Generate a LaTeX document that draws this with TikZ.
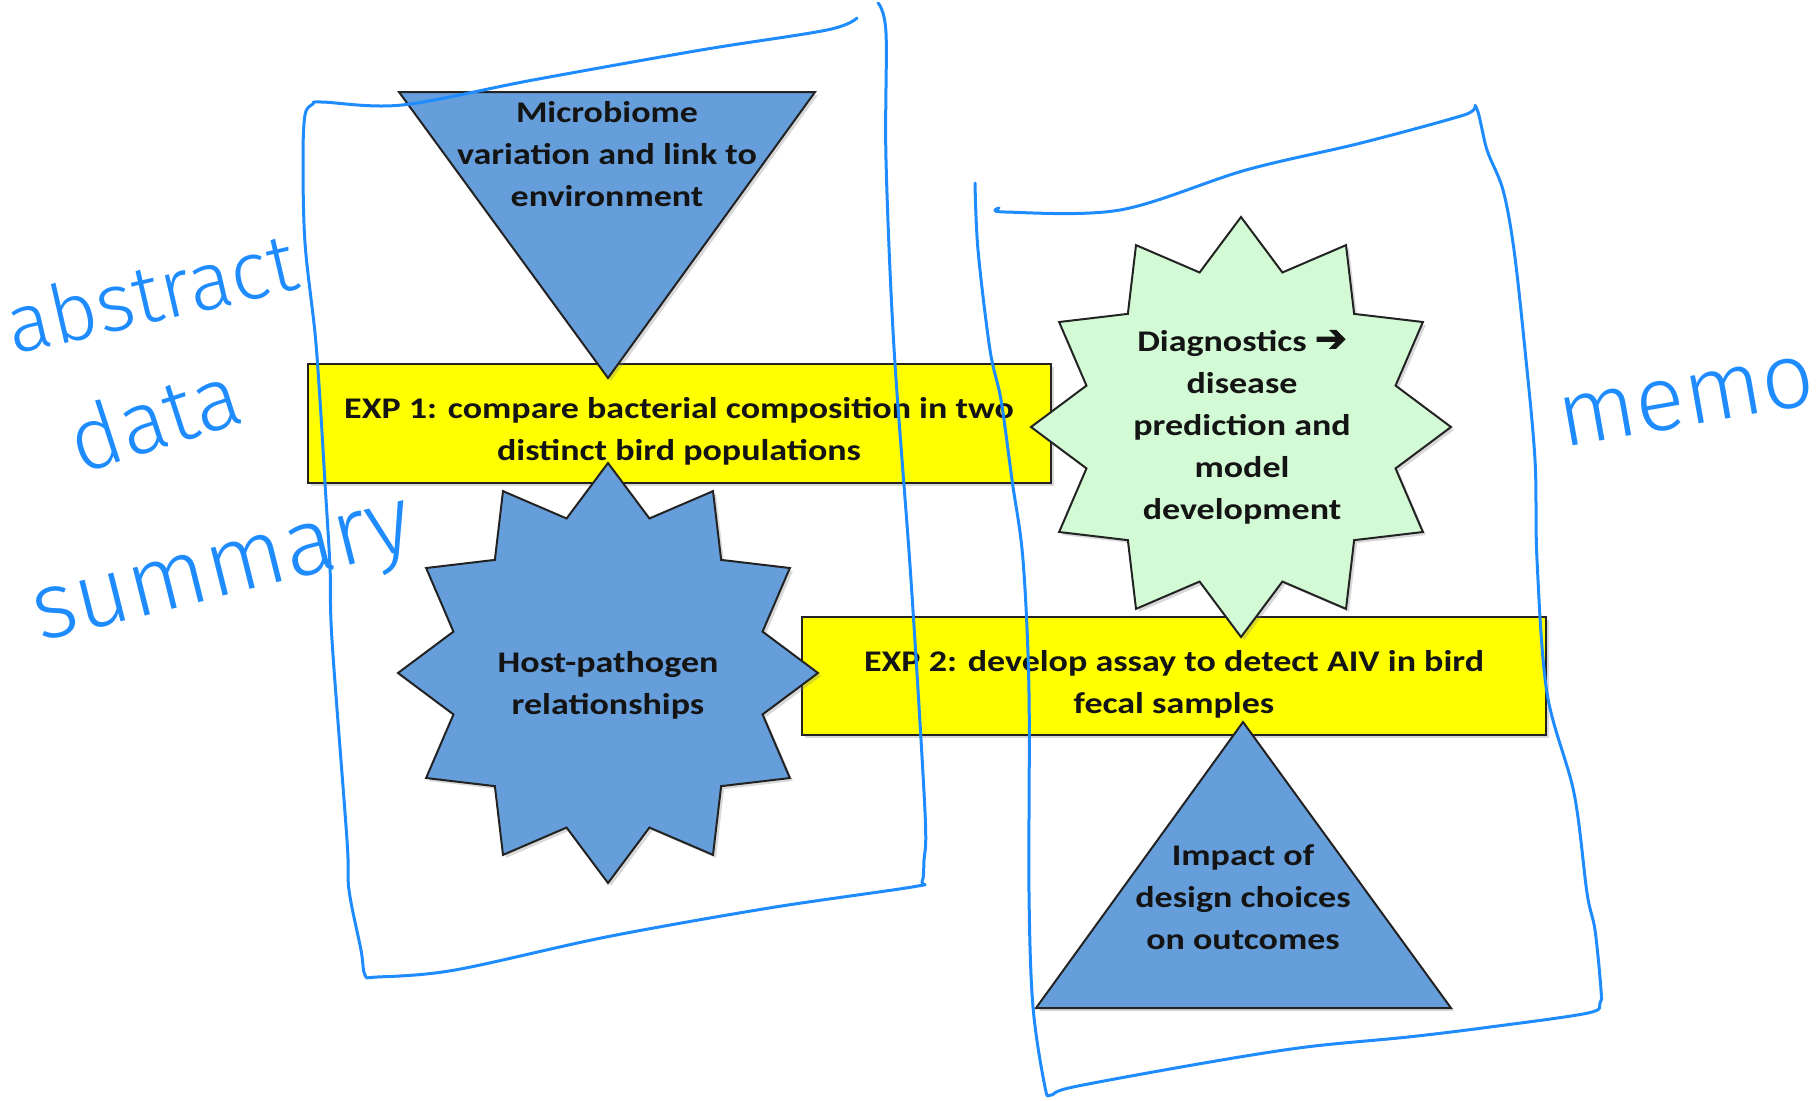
\documentclass[tikz,border=0pt]{standalone}
\usepackage{fontspec}
\setmainfont{Carlito}[FakeStretch=1.2]
\newfontfamily\arrowfont{DejaVu Sans}[FakeBold=2.5]
\newfontfamily\hand{Fira Sans Light}
\usetikzlibrary{shadows}
\definecolor{shapeblue}{RGB}{101,158,218}
\definecolor{expyellow}{RGB}{255,255,0}
\definecolor{stargreen}{RGB}{210,250,212}
\definecolor{handblue}{RGB}{30,140,255}
\definecolor{edgegrey}{RGB}{35,35,35}
\begin{document}
\begin{tikzpicture}[x=0.5pt,y=-0.5pt,
  shp/.style={draw=edgegrey, line width=1pt, line join=miter,
    drop shadow={shadow xshift=1.5pt, shadow yshift=-1.5pt, opacity=0.3}},
  ybox/.style={shp, fill=expyellow, inner sep=0pt},
  bshape/.style={shp, fill=shapeblue},
  gshape/.style={shp, fill=stargreen},
  txt/.style={font=\bfseries\fontsize{15}{21}\selectfont, align=center, inner sep=0pt, text=black!92},
  handline/.style={draw=handblue, line width=1.5pt, line cap=round, line join=round},
  handtext/.style={text=handblue, inner sep=0pt, anchor=base west}
]
\useasboundingbox (0,0) rectangle (1820,1100);

% yellow experiment boxes
\node[ybox, minimum width=371.5pt, minimum height=59.5pt] (exp1box) at (679.5,423.5) {};
\node[ybox, minimum width=372pt, minimum height=59pt] (exp2box) at (1174,676) {};

% down triangle
\draw[bshape] (399,92) -- (815,92) -- (608,378) -- cycle;
% up triangle
\draw[bshape] (1243,722) -- (1451,1008) -- (1036,1008) -- cycle;

% host-pathogen star
\coordinate (hostc) at (608,673);
\draw[bshape, shift={(hostc)}] (90:210)
  \foreach \a in {0,30,...,330}{ -- ({\a+105}:160) -- ({\a+120}:210) } -- cycle;
% diagnostics star
\coordinate (diagc) at (1241,427);
\draw[gshape, shift={(diagc)}] (90:210)
  \foreach \a in {0,30,...,330}{ -- ({\a+105}:160) -- ({\a+120}:210) } -- cycle;

% texts
\node[txt] (micro) at (607,154) {Microbiome\\variation and link to\\environment};
\node[txt] (exp1) at (679,431) {EXP 1: compare bacterial composition in two\\distinct bird populations};
\node[txt] (exp2) at (1174,684) {EXP 2: develop assay to detect AIV in bird\\fecal samples};
\node[txt] (host) at (608,685) {Host-pathogen\\relationships};
\node[txt] (diag) at (1242,427) {Diagnostics {\arrowfont\mdseries\fontsize{19}{21}\selectfont ➔}\\disease\\prediction and\\model\\development};
\node[txt] (impact) at (1243,897) {Impact of\\design choices\\on outcomes};

% handwritten frames
\draw[handline] plot[smooth, tension=0.55] coordinates {
  (878,3) (886,33) (886,160) (894,348) (911,580) (925,812) (924,860) (922,882)
  (912,887) (769,908) (606,937) (455,970) (377,977) (365,975) (361,950)
  (349,890) (347,840) (332,640) (330,567) (325,483) (320,400) (315,333)
  (305,243) (303,160) (305,115) (313,104) (322,102) (402,105) (533,80)
  (701,50) (827,30) (857,18)};
\draw[handline] plot[smooth, tension=0.55] coordinates {
  (975,183) (978,250) (990,350) (1001,400) (1012,480) (1023,560) (1029,693)
  (1029,893) (1033,1007) (1045,1087) (1051,1095) (1073,1087) (1204,1063)
  (1306,1047) (1408,1037) (1490,1027) (1588,1013) (1600,1003) (1601,990)
  (1595,930) (1587,893) (1574,793) (1547,693) (1537,560) (1535,460)
  (1525,350) (1514,250) (1503,190) (1487,150) (1476,107) (1464,115)
  (1361,143) (1246,170) (1120,210) (1005,212) (999,208)};

% handwritten words
\node[handtext, rotate=13, font=\hand\fontsize{41}{41}\selectfont] (wabstract) at (13,355) {abstract};
\node[handtext, rotate=18, font=\hand\fontsize{44}{44}\selectfont] (wdata) at (80,475) {data};
\node[handtext, rotate=14, font=\hand\fontsize{47}{47}\selectfont] (wsummary) at (40,642) {summary};
\node[handtext, rotate=10, font=\hand\fontsize{46}{46}\selectfont] (wmemo) at (1563,448) {memo};
\end{tikzpicture}
\end{document}
